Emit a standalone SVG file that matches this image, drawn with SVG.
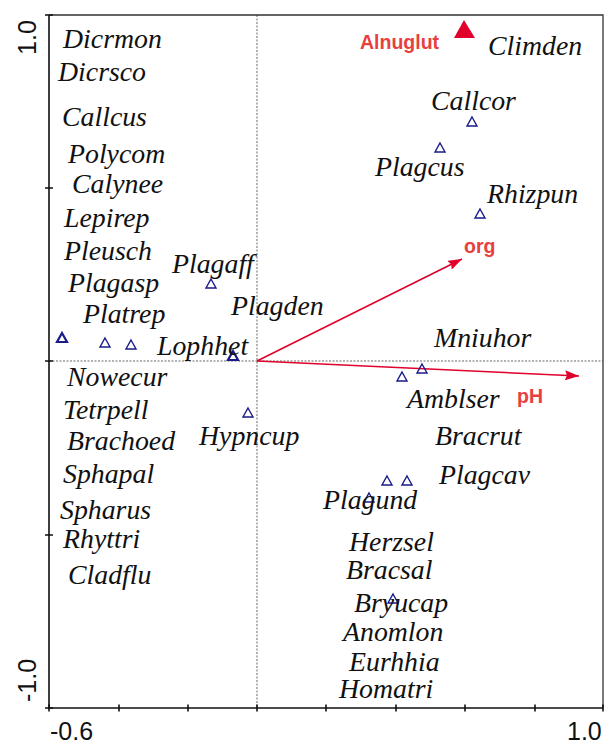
<svg xmlns="http://www.w3.org/2000/svg" width="604" height="744" viewBox="0 0 604 744">
<style>
.sp{font-family:"Liberation Serif","Times New Roman",serif;font-style:italic;font-size:27.8px;fill:#111}
.env{font-family:"Liberation Sans",Arial,sans-serif;font-weight:bold;font-size:19.5px;fill:#e8403f}
.tick{font-family:"Liberation Sans",Arial,sans-serif;font-size:25px;fill:#111}
.ax{stroke:#111;stroke-width:1.6;fill:none}
.fr{stroke:#333;stroke-width:1.3;fill:none}
.dot{stroke:#555;stroke-width:0.9;stroke-dasharray:2 1.5;fill:none}
.tri{fill:none;stroke:#1a1a8a;stroke-width:1.4}
.trib{fill:none;stroke:#1a1a8a;stroke-width:2.2}
.arr{stroke:#e0002b;stroke-width:1.6;fill:none}
</style>
<defs>
<path id="t" d="M0,-5 L5,4 L-5,4 Z"/>
<marker id="ah" viewBox="0 0 14 10" refX="14" refY="5" markerWidth="14" markerHeight="10" markerUnits="userSpaceOnUse" orient="auto">
<path d="M0,0 L14,5 L0,10 L2,5 Z" fill="#e0002b"/>
</marker>
</defs>
<rect width="604" height="744" fill="#fff"/>
<g id="frame">
<line class="dot" x1="257" y1="15" x2="257" y2="708"/>
<line class="dot" x1="49" y1="361" x2="603" y2="361"/>
<path class="fr" d="M49,15 H603 V708"/>
<path class="ax" d="M49,15 V708 H603"/>
<path class="ax" d="M45,15 H53 M45,188 H53 M45,361 H53 M45,535 H53 M45,708 H53"/>
<path class="ax" d="M49,704.5 V711.5 M119,704.5 V711.5 M188,704.5 V711.5 M257,704.5 V711.5 M326,704.5 V711.5 M396,704.5 V711.5 M465,704.5 V711.5 M535,704.5 V711.5 M603,704.5 V711.5"/>
<text class="tick" transform="translate(36,37.5) rotate(-90)" text-anchor="middle">1.0</text>
<text class="tick" transform="translate(36,680.5) rotate(-90)" text-anchor="middle">-1.0</text>
<text class="tick" x="50" y="740">-0.6</text>
<text class="tick" x="567" y="740">1.0</text>
</g>
<g id="connectors">
<line id="arrow-pH" class="arr" x1="257" y1="361" x2="579" y2="376" marker-end="url(#ah)"/>
<line id="arrow-org" class="arr" x1="257" y1="361" x2="462" y2="259" marker-end="url(#ah)"/>
</g>
<g id="sites">
<use href="#t" class="tri" x="472" y="122"/>
<use href="#t" class="tri" x="440" y="148"/>
<use href="#t" class="tri" x="480" y="214"/>
<use href="#t" class="tri" x="211" y="284"/>
<use href="#t" class="trib" x="62" y="338"/>
<use href="#t" class="tri" x="105" y="343"/>
<use href="#t" class="tri" x="131" y="345"/>
<use href="#t" class="trib" x="233" y="356"/>
<use href="#t" class="tri" x="248" y="413"/>
<use href="#t" class="tri" x="402" y="377"/>
<use href="#t" class="tri" x="422" y="369"/>
<use href="#t" class="tri" x="387" y="481"/>
<use href="#t" class="tri" x="407" y="481"/>
<use href="#t" class="tri" x="369" y="498"/>
<use href="#t" class="tri" x="393" y="599"/>
</g>
<g id="Alnuglut"><path d="M464,20 L475,38 L454,38 Z" fill="#e0002b"/><text class="env" x="360" y="49">Alnuglut</text></g>
<g id="org"><text class="env" x="464" y="253">org</text></g>
<g id="pH"><text class="env" x="517" y="403">pH</text></g>
<g id="Dicrmon"><text class="sp" x="63" y="48">Dicrmon</text></g>
<g id="Dicrsco"><text class="sp" x="58" y="81">Dicrsco</text></g>
<g id="Callcus"><text class="sp" x="62" y="126">Callcus</text></g>
<g id="Polycom"><text class="sp" x="68" y="163">Polycom</text></g>
<g id="Calynee"><text class="sp" x="72" y="193">Calynee</text></g>
<g id="Lepirep"><text class="sp" x="64" y="227">Lepirep</text></g>
<g id="Pleusch"><text class="sp" x="64" y="260">Pleusch</text></g>
<g id="Plagaff"><text class="sp" x="172" y="273">Plagaff</text></g>
<g id="Plagasp"><text class="sp" x="68" y="292">Plagasp</text></g>
<g id="Plagden"><text class="sp" x="231" y="315">Plagden</text></g>
<g id="Platrep"><text class="sp" x="83" y="323">Platrep</text></g>
<g id="Lophhet"><text class="sp" x="157" y="355">Lophhet</text></g>
<g id="Nowecur"><text class="sp" x="67" y="386">Nowecur</text></g>
<g id="Tetrpell"><text class="sp" x="63" y="419">Tetrpell</text></g>
<g id="Brachoed"><text class="sp" x="67" y="450">Brachoed</text></g>
<g id="Sphapal"><text class="sp" x="63" y="483">Sphapal</text></g>
<g id="Spharus"><text class="sp" x="60" y="519">Spharus</text></g>
<g id="Rhyttri"><text class="sp" x="63" y="548">Rhyttri</text></g>
<g id="Cladflu"><text class="sp" x="68" y="584">Cladflu</text></g>
<g id="Hypncup"><text class="sp" x="199" y="445">Hypncup</text></g>
<g id="Climden"><text class="sp" x="488" y="55">Climden</text></g>
<g id="Callcor"><text class="sp" x="431" y="110">Callcor</text></g>
<g id="Plagcus"><text class="sp" x="375" y="176">Plagcus</text></g>
<g id="Rhizpun"><text class="sp" x="487" y="203">Rhizpun</text></g>
<g id="Mniuhor"><text class="sp" x="434" y="347">Mniuhor</text></g>
<g id="Amblser"><text class="sp" x="407" y="408">Amblser</text></g>
<g id="Bracrut"><text class="sp" x="435" y="445">Bracrut</text></g>
<g id="Plagcav"><text class="sp" x="439" y="484">Plagcav</text></g>
<g id="Plagund"><text class="sp" x="323" y="509">Plagund</text></g>
<g id="Herzsel"><text class="sp" x="349" y="551">Herzsel</text></g>
<g id="Bracsal"><text class="sp" x="346" y="579">Bracsal</text></g>
<g id="Bryucap"><text class="sp" x="354" y="612">Bryucap</text></g>
<g id="Anomlon"><text class="sp" x="343" y="641">Anomlon</text></g>
<g id="Eurhhia"><text class="sp" x="349" y="671">Eurhhia</text></g>
<g id="Homatri"><text class="sp" x="339" y="698">Homatri</text></g>
</svg>
